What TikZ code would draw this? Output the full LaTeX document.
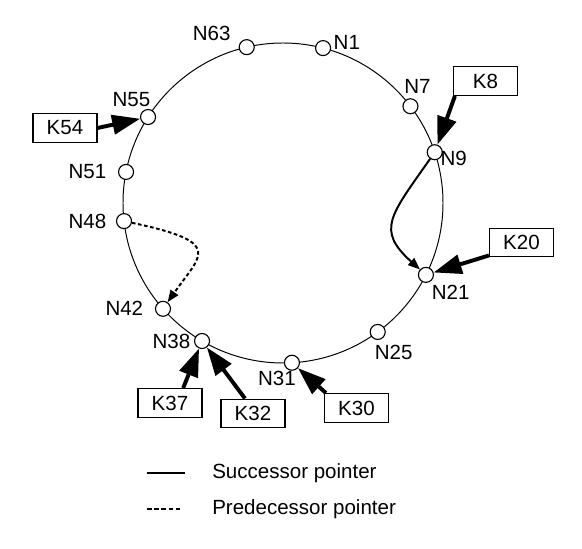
\documentclass[tikz,border=0pt]{standalone}
\usepackage{fontspec}
\setmainfont{Liberation Sans}
\usetikzlibrary{arrows.meta, positioning, calc}
\newcommand{\ringradius}{4cm}
\tikzset{
    ring/.style={
        draw=black,
        line width=0.7pt
    },
    peer/.style={
        circle,
        draw=black,
        fill=white,
        line width=0.8pt,
        minimum size=0.375cm,
        inner sep=0pt
    },
    keybox/.style={
        rectangle,
        draw=black,
        fill=white,
        line width=0.8pt,
        minimum width=1.6cm,
        minimum height=0.72cm,
        inner sep=1pt
    },
    keyarrow/.style={
        -{Triangle[length=0.7cm, width=0.48cm]},
        line width=2.8pt
    },
    succ/.style={
        -{Triangle[length=0.3cm, width=0.23cm]},
        line width=1.4pt
    },
    pred/.style={
        -{Triangle[length=0.3cm, width=0.23cm]},
        line width=1.4pt,
        dash pattern=on 2.6pt off 1.8pt
    },
    % Legend
    legendsolid/.style={
        line width=1.5pt
    },
    legenddotted/.style={
        line width=1.5pt,
        dash pattern=on 3.4pt off 1.7pt
    },
    legendtext/.style={
        inner sep=0pt
    }
}

\begin{document}
\begin{tikzpicture}[font=\fontsize{14.6}{17}\selectfont]
    \useasboundingbox (-7.075,-8.65) rectangle (7.475,5.075);

    \draw[ring] (0,0) circle[radius=\ringradius];

    % peers on the ring
    \node[peer, label={[xshift=-0.06cm, yshift=0.15cm]right:N1}] (n1) at (75.5:\ringradius) {};
    \node[peer, label={[xshift=0.175cm, yshift=0.0cm]above:N7}] (n7) at (37.2:\ringradius) {};
    \node[peer, label={[xshift=-0.18cm, yshift=-0.16cm]right:N9}] (n9) at (18.5:\ringradius) {};
    \node[peer, label={[xshift=-0.12cm]below right:N21}] (n21) at (-26.7:\ringradius) {};
    \node[peer, label={[xshift=0.4cm]below:N25}] (n25) at (-53.7:\ringradius) {};
    \node[peer, label={[xshift=-0.375cm, yshift=0.12cm]below:N31}] (n31) at (-86.8:\ringradius) {};
    \node[peer, label={[label distance=-0.03cm]left:N38}] (n38) at (-120.4:\ringradius) {};
    \node[peer, label={[label distance=0.17cm]left:N42}] (n42) at (-138.6:\ringradius) {};
    \node[peer, label={[label distance=0.12cm]left:N48}] (n48) at (186.5:\ringradius) {};
    \node[peer, label={[label distance=0.17cm]left:N51}] (n51) at (168.8:\ringradius) {};
    \node[peer, label={[xshift=0.32cm]above left:N55}] (n55) at (147.5:\ringradius) {};
    \node[peer, label={[xshift=-0.08cm, yshift=0.35cm]left:N63}] (n63) at (103.1:\ringradius) {};

    % keys
    \node[keybox] (k8) at (5.0625,3.05) {K8};
    \node[keybox] (k20) at (5.9625,-0.9875) {K20};
    \node[keybox] (k30) at (1.8375,-5.125) {K30};
    \node[keybox] (k32) at (-0.75,-5.2625) {K32};
    \node[keybox] (k37) at (-2.825,-5.0) {K37};
    \node[keybox] (k54) at (-5.45,1.875) {K54};

    \draw[keyarrow] ([xshift=0.05cm]k8.south west) -- (n9);
    \draw[keyarrow] ([yshift=0.05cm]k20.south west) -- (n21);
    \draw[keyarrow] ([xshift=0.05cm]k30.north west) -- (n31);
    \draw[keyarrow] ([xshift=-0.2cm]k32.north) -- (n38);
    \draw[keyarrow] ([xshift=0.33cm]k37.north) -- (n38);
    \draw[keyarrow] (k54.east) -- (n55);

    % pointers
    \draw[succ] (n9) .. controls +(235:1.95cm) and +(138:1.68cm) .. (n21);
    \draw[pred] (n48) .. controls +(-12:2.57cm) and +(55:1.67cm) .. (n42);

    % legend
    \coordinate (succa) at (-3.4,-6.75);
    \coordinate (succb) at (-2.45,-6.75);
    \coordinate (preda) at (-3.4,-7.65);
    \coordinate (predb) at (-2.575,-7.65);
    \draw[legendsolid] (succa) -- (succb);
    \draw[legenddotted] (preda) -- (predb);
    \node[legendtext, right=0.675cm of succb] (succtext) {Successor pointer};
    \node[legendtext, right=0.8cm of predb] (predtext) {Predecessor pointer};
\end{tikzpicture}
\end{document}
